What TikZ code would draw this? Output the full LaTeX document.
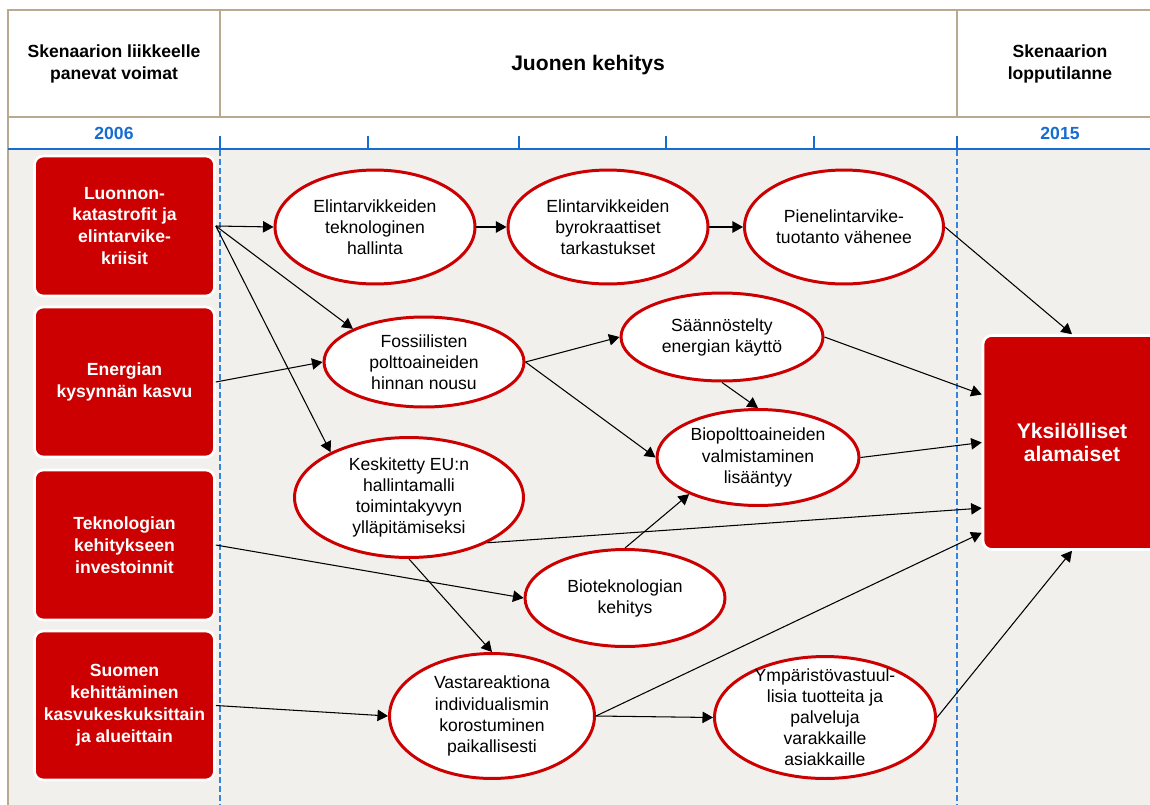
\documentclass[tikz,border=0pt]{standalone}
\usepackage{fontspec}
\setmainfont{Liberation Sans}
\usetikzlibrary{shapes.geometric,arrows.meta}

\definecolor{skred}{RGB}{204,0,0}
\definecolor{sktan}{RGB}{184,169,144}
\definecolor{skgrey}{RGB}{241,240,237}
\definecolor{skblue}{RGB}{22,108,208}
\definecolor{skdash}{RGB}{52,132,222}

\begin{document}
\begin{tikzpicture}[x=0.02cm, y=-0.02cm,
    driver/.style={rectangle, rounded corners=5pt, fill=skred, draw=white, line width=1.5pt,
      text=white, align=center, minimum width=3.6cm, font=\bfseries\fontsize{10}{12.5}\selectfont},
    event/.style={ellipse, draw=skred, line width=1.7pt, fill=white, align=center, inner sep=0pt,
      font=\fontsize{10}{12}\selectfont},
    link/.style={-{Triangle[length=6pt,width=6.5pt]}, line width=0.6pt},
    head/.style={align=center, font=\bfseries\fontsize{10}{12.5}\selectfont},
    year/.style={text=skblue, font=\bfseries\fontsize{10}{12}\selectfont}]

  \useasboundingbox (0,0) rectangle (1150,805);
  \clip (0,0) rectangle (1150,805);

  %%%%% FRAME %%%%%
  \fill[skgrey] (8,149) rectangle (1150,805);
  \draw[sktan, line width=1pt] (8,805) -- (8,10) -- (1150,10);
  \draw[sktan, line width=1pt] (8,117) -- (1150,117);
  \draw[sktan, line width=1pt] (220,10) -- (220,117);
  \draw[sktan, line width=1pt] (957,10) -- (957,117);

  \node[head] (hvoimat) at (114,64) {Skenaarion liikkeelle\\panevat voimat};
  \node[head, font=\bfseries\fontsize{12}{14}\selectfont] (hjuoni) at (588,65) {Juonen kehitys};
  \node[head] (hloppu) at (1060,64) {Skenaarion\\lopputilanne};
  \node[year] (alku) at (114,133) {2006};
  \node[year] (loppuv) at (1060,133) {2015};

  \draw[skblue, line width=1.3pt] (8,149) -- (1150,149);
  \foreach \x in {220,368,519,666,814,957}
    \draw[skblue, line width=0.9pt] (\x,136) -- (\x,150);
  \draw[skdash, line width=0.8pt, dash pattern=on 3.4pt off 1.7pt] (220,150) -- (220,805);
  \draw[skdash, line width=0.8pt, dash pattern=on 3.4pt off 1.7pt] (957,150) -- (957,805);

  %%%%% DRIVERS %%%%%
  \node[driver, minimum height=2.8cm] (luonnon) at (124.5,226) {Luonnon-\\katastrofit ja\\elintarvike-\\kriisit};
  \node[driver, minimum height=3.0cm] (energia) at (124.5,382) {Energian\\kysynnän kasvu};
  \node[driver, minimum height=3.0cm] (teknologia) at (124.5,545) {Teknologian\\kehitykseen\\investoinnit};
  \node[driver, minimum height=2.98cm] (suomi) at (124.5,705.5) {Suomen\\kehittäminen\\kasvukeskuksittain\\ja alueittain};

  \node[driver, minimum width=3.56cm, minimum height=4.28cm, font=\bfseries\fontsize{12}{13.5}\selectfont]
    (loppu) at (1072,442.5) {Yksilölliset\\alamaiset};

  %%%%% EVENTS %%%%%
  \node[event, minimum width=4.0cm, minimum height=2.28cm] (hallinta) at (375,227) {Elintarvikkeiden\\teknologinen\\hallinta};
  \node[event, minimum width=4.0cm, minimum height=2.28cm] (tarkastus) at (608,227) {Elintarvikkeiden\\byrokraattiset\\tarkastukset};
  \node[event, minimum width=3.98cm, minimum height=2.28cm] (pienel) at (844,227) {Pienelintarvike-\\tuotanto vähenee};
  \node[event, minimum width=4.0cm, minimum height=1.8cm] (fossiili) at (424,362) {Fossiilisten\\polttoaineiden\\hinnan nousu};
  \node[event, minimum width=4.04cm, minimum height=1.76cm] (saannos) at (722,337) {Säännöstelty\\energian käyttö};
  \node[event, minimum width=4.04cm, minimum height=1.92cm] (biopolt) at (758,457.5) {Biopolttoaineiden\\valmistaminen\\lisääntyy};
  \node[event, minimum width=4.58cm, minimum height=2.4cm] (keskitetty) at (409,497.5) {Keskitetty EU:n\\hallintamalli\\toimintakyvyn\\ylläpitämiseksi};
  \node[event, minimum width=4.0cm, minimum height=1.94cm] (biotek) at (625,598) {Bioteknologian\\kehitys};
  \node[event, minimum width=4.1cm, minimum height=2.5cm] (vastareak) at (492,716) {Vastareaktiona\\individualismin\\korostuminen\\paikallisesti};
  \node[event, minimum width=4.42cm, minimum height=2.44cm, inner ysep=-14pt] (ympar) at (825,717.5) {Ympäristövastuul-\\lisia tuotteita ja\\palveluja\\varakkaille\\asiakkaille};

  %%%%% LINKS %%%%%
  \draw[link] (luonnon.east) -- (hallinta.west);
  \draw[link] (luonnon.east) -- (fossiili.155);
  \draw[link] (luonnon.east) -- (keskitetty.150);
  \draw[link] (hallinta) -- (tarkastus);
  \draw[link] (tarkastus) -- (pienel);
  \draw[link] (pienel.east) -- (loppu.north);
  \draw[link] (energia.east) -- (fossiili.west);
  \draw[link] (fossiili.east) -- (saannos.west);
  \draw[link] (fossiili.east) -- (biopolt.west);
  \draw[link] (saannos.south) -- (biopolt.north);
  \draw[link] (saannos.east) -- (loppu.152);
  \draw[link] (biopolt.east) -- (loppu.west);
  \draw[link] (keskitetty.330) -- (loppu.216);
  \draw[link] (teknologia.east) -- (biotek.west);
  \draw[link] (biotek.north) -- (biopolt.208);
  \draw[link] (keskitetty.south) -- (vastareak.north);
  \draw[link] (suomi.east) -- (vastareak.west);
  \draw[link] (vastareak.east) -- (ympar.west);
  \draw[link] (vastareak.east) -- (loppu.225);
  \draw[link] (ympar.east) -- (loppu.south);

\end{tikzpicture}
\end{document}
